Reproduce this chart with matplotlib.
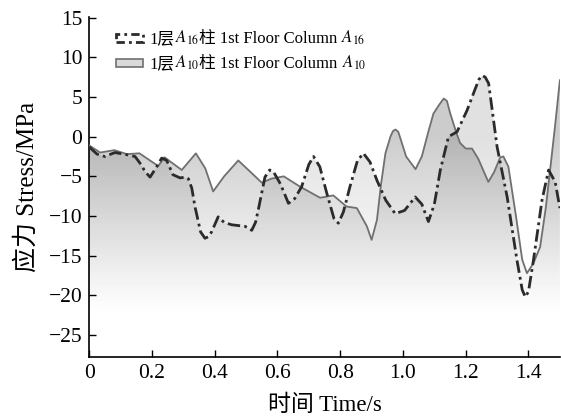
import numpy as np
import matplotlib.pyplot as plt
from matplotlib.offsetbox import AnchoredOffsetbox, DrawingArea, HPacker, VPacker, TextArea
from matplotlib.patches import Rectangle

plt.rcParams['font.family'] = ['Liberation Serif', 'Noto Sans CJK SC']
plt.rcParams['mathtext.fontset'] = 'stix'

################     Data    ##########################################
# column A16, 1st floor (dash-dot)
t_a16 = [0, 0.025, 0.05, 0.082, 0.123, 0.146, 0.165, 0.178, 0.194, 0.215, 0.231, 0.247,
         0.267, 0.29, 0.305, 0.316, 0.327, 0.337, 0.355, 0.369, 0.38, 0.39, 0.411, 0.43,
         0.454, 0.497, 0.518, 0.53, 0.54, 0.56, 0.575, 0.587, 0.61, 0.635, 0.655, 0.677,
         0.7, 0.715, 0.735, 0.757, 0.78, 0.794, 0.81, 0.831, 0.855, 0.874, 0.895, 0.917,
         0.945, 0.975, 1.005, 1.039, 1.06, 1.081, 1.1, 1.119, 1.145, 1.172, 1.204, 1.23,
         1.242, 1.252, 1.262, 1.273, 1.3, 1.332, 1.363, 1.38, 1.39, 1.4, 1.416, 1.443,
         1.464, 1.485, 1.5]
s_a16 = [-1.3, -2.2, -2.5, -2.0, -2.3, -2.5, -3.5, -4.4, -5.1, -3.8, -2.7, -3.0,
         -4.8, -5.2, -5.1, -5.3, -6.5, -8.8, -12.0, -12.8, -12.6, -12.0, -10.1, -10.8,
         -11.1, -11.3, -11.8, -10.8, -9.0, -5.1, -4.2, -4.4, -6.0, -8.4, -7.8, -6.3,
         -3.5, -2.5, -3.8, -7.1, -10.3, -10.9, -9.5, -6.3, -3.0, -2.1, -3.2, -5.5,
         -8.0, -9.7, -9.3, -7.6, -8.5, -10.7, -8.5, -4.2, 0.0, 0.6, 3.3, 6.0,
         7.2, 7.7, 7.5, 6.7, -1.3, -7.6, -15.5, -19.3, -20.2, -19.5, -15.5, -8.0,
         -4.2, -5.7, -9.0]

# column A10, 1st floor (solid)
t_a10 = [0, 0.035, 0.08, 0.12, 0.16, 0.22, 0.24, 0.295, 0.34, 0.37, 0.395, 0.43, 0.475,
         0.51, 0.55, 0.58, 0.62, 0.672, 0.736, 0.778, 0.82, 0.853, 0.885, 0.9, 0.917,
         0.93, 0.944, 0.96, 0.968, 0.976, 0.985, 0.99, 1.01, 1.04, 1.06, 1.08, 1.097,
         1.115, 1.13, 1.14, 1.15, 1.17, 1.182, 1.2, 1.22, 1.24, 1.272, 1.29, 1.31, 1.32,
         1.336, 1.36, 1.38, 1.395, 1.415, 1.437, 1.455, 1.47, 1.485, 1.5]
s_a10 = [-1.1, -2.0, -1.7, -2.2, -2.1, -3.7, -2.6, -4.2, -2.1, -4.0, -6.9, -5.0, -3.0,
         -4.3, -5.8, -5.3, -5.0, -6.3, -7.7, -7.4, -8.8, -9.0, -11.3, -13.0, -10.5,
         -6.0, -2.1, 0.0, 0.7, 0.9, 0.6, 0.0, -2.5, -4.1, -2.5, 0.5, 2.9,
         4.0, 4.8, 4.5, 3.0, 0.5, -0.8, -1.5, -1.5, -2.8, -5.7, -4.5, -2.6, -2.5,
         -3.8, -10.0, -15.5, -17.2, -16.0, -13.9, -9.0, -3.8, 1.5, 7.1]

label_a16 = ['1层', '$A_{16}$', '柱 1st Floor Column ', '$A_{16}$']
label_a10 = ['1层', '$A_{10}$', '柱 1st Floor Column ', '$A_{10}$']
xticks = [0, 0.2, 0.4, 0.6, 0.8, 1.0, 1.2, 1.4]
xticklabels = ['0', '0.2', '0.4', '0.6', '0.8', '1.0', '1.2', '1.4']
yticks = [-25, -20, -15, -10, -5, 0, 5, 10, 15]

y_lo, y_hi = -27.7, 15.1

###############     Plot    ####################
fig = plt.figure(figsize=(5.61, 4.19), dpi=100)
ax = fig.add_axes([0.159, 0.149, 0.839, 0.811])


def gradient_fill(t, s, amax):
    # grey area under a curve, fading out towards the bottom
    poly = ax.fill_between(t, s, y_lo, facecolor='none', edgecolor='none')
    yy = np.linspace(y_lo, y_hi, 400)
    img = np.zeros((400, 2, 4))
    img[..., 3] = (amax * np.clip((yy + 23) / 23, 0, 1) ** 1.2)[:, None]
    im = ax.imshow(img, extent=[0, 1.5, y_lo, y_hi], origin='lower',
                   aspect='auto', zorder=1)
    im.set_clip_path(poly.get_paths()[0], transform=ax.transData)


gradient_fill(t_a10, s_a10, 0.2)
gradient_fill(t_a16, s_a16, 0.12)

ax.plot(t_a10, s_a10, color='#707070', lw=1.3, zorder=3)
ax.plot(t_a16, s_a16, color='#2b2b2b', lw=2.0, dashes=(4.5, 1.5, 1, 1.5), zorder=4)

ax.set_xlim(0, 1.5)
ax.set_ylim(y_lo, y_hi)
ax.set_xticks(xticks)
ax.set_xticklabels(xticklabels)
ax.set_yticks(yticks)
ax.tick_params(direction='in', length=5, width=1, labelsize=15.5, pad=5)
for side in ['top', 'right']:
    ax.spines[side].set_visible(False)
for side in ['left', 'bottom']:
    ax.spines[side].set_linewidth(1.2)

ax.set_xlabel('时间 Time/s', fontsize=16.5, labelpad=9)
ax.set_ylabel('应力 Stress/MPa', fontsize=18, labelpad=7)


# legend built by hand so the CJK text and the italic subscripts can mix
def key_box(dashed):
    da = DrawingArea(21, 8, 0, 0)
    if dashed:
        r = Rectangle((1, 1), 19, 6, facecolor='white', edgecolor='#2b2b2b',
                      lw=2, linestyle=(0, (3, 1.5, 1, 1.5)))
    else:
        r = Rectangle((1, 1), 19, 6, facecolor='#dadada', edgecolor='#707070', lw=1.2)
    da.add_artist(r)
    return da


def row(dashed, parts):
    texts = [TextArea(p, textprops=dict(fontsize=12)) for p in parts]
    return HPacker(children=[key_box(dashed),
                             HPacker(children=texts, sep=0, pad=0, align='baseline')],
                   sep=4, pad=0, align='center')


box = VPacker(children=[row(True, label_a16), row(False, label_a10)], sep=5, pad=0, align='left')
leg = AnchoredOffsetbox(loc='upper left', child=box, frameon=False, pad=0, borderpad=0,
                        bbox_to_anchor=(0.055, 0.965), bbox_transform=ax.transAxes)
ax.add_artist(leg)

plt.savefig('out.png', dpi=100)
